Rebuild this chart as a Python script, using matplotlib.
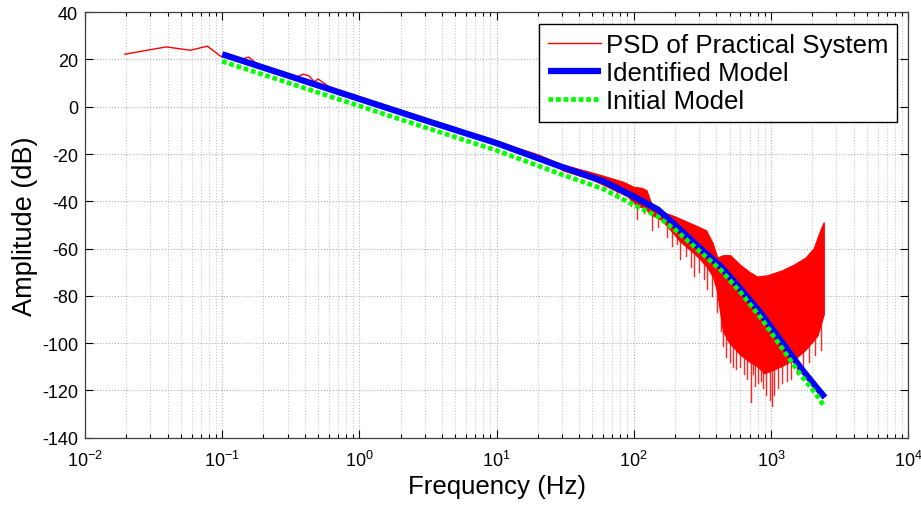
import matplotlib
matplotlib.use("Agg")
import numpy as np
import matplotlib.pyplot as plt
from matplotlib.ticker import LogLocator, NullFormatter

plt.rcParams['font.family'] = ['Liberation Sans', 'DejaVu Sans']
plt.rcParams['mathtext.fontset'] = 'custom'
plt.rcParams['mathtext.rm'] = 'Liberation Sans'
plt.rcParams['mathtext.it'] = 'Liberation Sans'
plt.rcParams['mathtext.bf'] = 'Liberation Sans'
plt.rcParams['axes.unicode_minus'] = False

# ---------------- data ----------------
# PSD of practical system: low-frequency thin line part
psd_f = [0.0195, 0.039, 0.0586, 0.078, 0.0977, 0.117, 0.137, 0.156, 0.176, 0.2,
         0.25, 0.3, 0.35, 0.39, 0.43, 0.47, 0.5, 0.6, 0.8, 1.0, 1.5, 2.0, 3.0,
         5.0, 8.0, 10.0, 15.0, 20.0, 30.0]
psd_db = [22.2, 25.3, 23.9, 25.6, 21.3, 20.5, 20.0, 21.0, 18.5, 17.3,
          15.5, 14.0, 12.5, 13.8, 13.0, 10.5, 11.7, 8.5, 6.0, 4.2, 0.8, -1.5, -4.8,
          -9.8, -12.6, -14.5, -18.0, -20.3, -24.6]

# PSD dense band (high-frequency part): upper and lower envelope
band_up_f = [30, 50, 70, 85, 100, 115, 125, 133, 145, 160, 200, 250, 300, 340,
             380, 410, 450, 510, 600, 700, 800, 950, 1200, 1480, 1800, 2070,
             2320, 2450]
band_up_db = [-24.5, -28.0, -30.5, -32.0, -34.0, -34.5, -35.5, -40.0, -43.5,
              -44.5, -46.5, -49.0, -51.0, -52.5, -58.0, -64.0, -63.0, -63.0,
              -67.0, -70.0, -72.0, -71.5, -69.5, -67.0, -64.0, -60.0, -52.0,
              -49.0]
band_lo_f = [30, 50, 70, 90, 106, 120, 136, 160, 191, 218, 250, 275, 310, 344,
             380, 407, 450, 500, 600, 700, 800, 900, 1000, 1200, 1500, 1800,
             2200, 2450]
band_lo_db = [-27.0, -31.0, -35.0, -38.0, -42.0, -43.0, -46.0, -48.0, -53.0,
              -57.0, -60.0, -62.0, -65.0, -68.0, -72.0, -78.0, -95.0, -100.0,
              -105.0, -108.0, -110.0, -113.0, -112.0, -110.0, -107.0, -103.0,
              -97.0, -88.0]
# downward spikes of the PSD (frequency, lowest value)
spike_f = [75, 95, 106, 118, 136, 150, 175, 191, 205, 218, 240, 260, 275, 300,
           325, 344, 370, 407, 430, 445, 470, 500, 530, 560, 600, 640, 670,
           714, 740, 770, 800, 840, 870, 920, 980, 1015, 1060, 1120, 1200,
           1300, 1400, 1550, 1700, 1900, 2100, 2300]
spike_db = [-38.0, -42.0, -47.5, -45.0, -52.0, -51.0, -55.0, -59.0, -58.0,
            -64.4, -63.0, -68.0, -71.5, -70.0, -73.0, -77.0, -80.0, -87.0,
            -95.0, -101.0, -106.0, -108.0, -110.0, -111.0, -110.0, -113.0,
            -115.0, -125.0, -113.0, -118.0, -117.0, -116.0, -119.0, -122.0,
            -124.0, -126.5, -122.0, -119.0, -117.0, -116.0, -115.0, -113.0,
            -110.0, -108.0, -105.0, -103.0]

# Identified model
id_f = [0.1, 0.3, 1, 3, 10, 30, 60, 100, 150, 200, 300, 430, 600, 850, 1200,
        1650, 2100, 2476]
id_db = [22.2, 13.2, 3.3, -5.7, -15.4, -25.5, -31.5, -38.0, -43.5, -50.0,
         -59.5, -67.5, -77.0, -87.5, -99.5, -110.5, -118.0, -123.0]

# Initial model
in_f = [0.1, 0.3, 1, 3, 10, 30, 60, 100, 150, 200, 300, 430, 600, 850, 1200,
        1650, 2100, 2430]
in_db = [19.2, 10.2, 0.3, -8.7, -18.5, -28.7, -34.8, -41.5, -46.5, -52.0,
         -61.0, -69.0, -78.5, -89.5, -102.0, -113.5, -121.0, -126.5]

x_ticks = [1e-2, 1e-1, 1e0, 1e1, 1e2, 1e3, 1e4]
x_ticklabels = [r'$10^{-2}$', r'$10^{-1}$', r'$10^{0}$', r'$10^{1}$',
                r'$10^{2}$', r'$10^{3}$', r'$10^{4}$']
y_ticks = [-140, -120, -100, -80, -60, -40, -20, 0, 20, 40]

# ---------------- figure ----------------
fig = plt.figure(figsize=(9.21, 5.06), dpi=100)
ax = fig.add_axes([0.0923, 0.133, 0.8937, 0.841])

red = '#ff0000'
poly_f = list(band_up_f) + list(band_lo_f[::-1])
poly_db = list(band_up_db) + list(band_lo_db[::-1])
ax.fill(poly_f, poly_db, color=red, lw=0.8, ec=red, zorder=2)
# spikes hang from the lower edge of the band
lo_at_spike = np.interp(np.log10(spike_f), np.log10(band_lo_f), band_lo_db)
for f, d, top in zip(spike_f, spike_db, lo_at_spike):
    ax.plot([f, f], [d, top + 2], color=red, lw=1.0, alpha=0.85, zorder=2)
psd_line, = ax.plot(psd_f, psd_db, color=red, lw=1.0, zorder=2,
                    label='PSD of Practical System')

id_line, = ax.plot(id_f, id_db, color='#0000ff', lw=4.5, zorder=3,
                   solid_capstyle='butt', label='Identified Model')
in_line, = ax.plot(in_f, in_db, color='#00ff00', lw=3.4, zorder=4,
                   linestyle=(0, (1, 0.6)), dash_capstyle='butt',
                   label='Initial Model')

ax.set_xscale('log')
ax.set_xlim(1e-2, 1e4)
ax.set_ylim(-140, 40)
ax.set_xticks(x_ticks)
ax.set_xticklabels(x_ticklabels)
ax.xaxis.set_minor_locator(LogLocator(base=10, subs=range(2, 10), numticks=20))
ax.xaxis.set_minor_formatter(NullFormatter())
ax.set_yticks(y_ticks)

ax.tick_params(axis='both', which='both', direction='in', top=True,
               right=True, labelsize=13, width=0.8)
ax.tick_params(axis='both', which='major', length=6)
ax.tick_params(axis='x', which='minor', length=3)
ax.tick_params(axis='x', which='major', pad=9, labelsize=13)
ax.tick_params(axis='y', which='major', pad=5)

ax.grid(True, which='major', axis='both', linestyle=':', color='#b0b0b0',
        lw=0.8)
ax.grid(True, which='minor', axis='x', linestyle=':', color='#c8c8c8', lw=0.8)
for s in ax.spines.values():
    s.set_color('#404040')
    s.set_linewidth(0.9)

ax.set_xlabel('Frequency (Hz)', fontsize=18.6, labelpad=3)
ax.set_ylabel('Amplitude (dB)', fontsize=19.5, labelpad=3)

leg = ax.legend(handles=[psd_line, id_line, in_line], loc='upper right',
                fontsize=18.6, frameon=True, fancybox=False, framealpha=1,
                edgecolor='black', borderpad=0.33, labelspacing=0.17,
                handlelength=2.05, handletextpad=0.2, borderaxespad=0.3,
                bbox_to_anchor=(0.996, 0.99))
leg.get_frame().set_linewidth(1.0)

fig.savefig('out.png', dpi=100)
